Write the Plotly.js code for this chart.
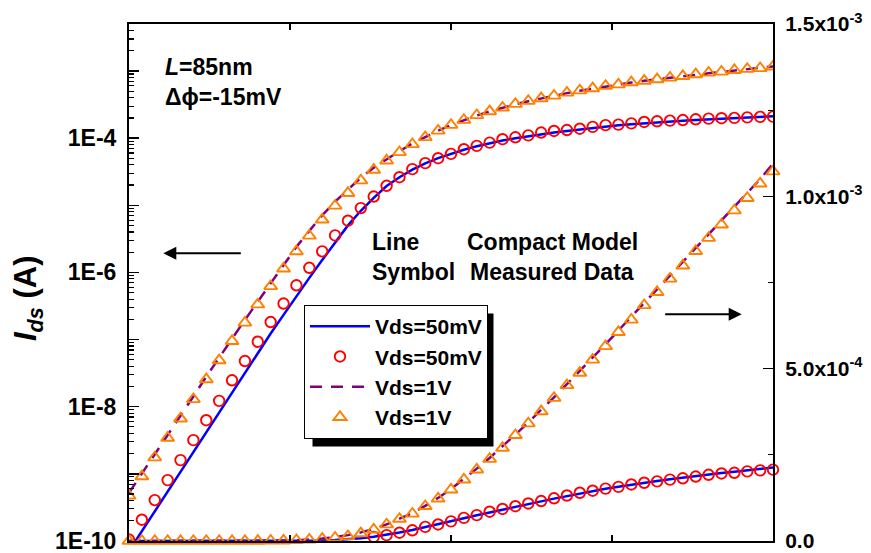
<!DOCTYPE html>
<html><head><meta charset="utf-8">
<script src="https://cdn.plot.ly/plotly-3.0.1.min.js"></script>
<style>html,body{margin:0;padding:0;background:#fff;} #chart{width:871px;height:553px;}</style>
</head><body><div id="chart"></div>
<script>
// Gate voltage grid (V)
const vgs = [0,0.02,0.04,0.06,0.08,0.10,0.12,0.14,0.16,0.18,0.20,0.22,0.24,0.26,0.28,0.30,0.32,0.34,0.36,0.38,0.40,0.42,0.44,0.46,0.48,0.50,0.52,0.54,0.56,0.58,0.60,0.62,0.64,0.66,0.68,0.70,0.72,0.74,0.76,0.78,0.80,0.82,0.84,0.86,0.88,0.90,0.92,0.94,0.96,0.98,1.00];

// ---- Log axis (left) ----
// Compact model, Vds=50mV
const modelLog50mV = [7.1e-11,1.40e-10,2.74e-10,5.44e-10,1.08e-9,2.14e-9,4.25e-9,8.25e-9,1.67e-8,3.23e-8,6.27e-8,1.23e-7,2.33e-7,4.45e-7,8.28e-7,1.53e-6,2.83e-6,5.01e-6,8.28e-6,1.29e-5,1.93e-5,2.62e-5,3.40e-5,4.22e-5,5.03e-5,5.85e-5,6.70e-5,7.55e-5,8.40e-5,9.20e-5,9.95e-5,1.07e-4,1.14e-4,1.21e-4,1.28e-4,1.35e-4,1.42e-4,1.49e-4,1.55e-4,1.61e-4,1.67e-4,1.72e-4,1.77e-4,1.82e-4,1.87e-4,1.91e-4,1.95e-4,1.99e-4,2.03e-4,2.07e-4,2.11e-4];
// Measured, Vds=50mV
const measLog50mV = [1.05e-10,2.07e-10,4.06e-10,8.05e-10,1.60e-9,3.17e-9,6.28e-9,1.22e-8,2.47e-8,4.78e-8,9.27e-8,1.82e-7,3.44e-7,6.43e-7,1.17e-6,2.06e-6,3.56e-6,5.89e-6,9.08e-6,1.35e-5,1.95e-5,2.62e-5,3.45e-5,4.24e-5,5.02e-5,5.82e-5,6.84e-5,7.66e-5,8.57e-5,9.64e-5,1.03e-4,1.10e-4,1.21e-4,1.28e-4,1.32e-4,1.38e-4,1.47e-4,1.56e-4,1.59e-4,1.66e-4,1.74e-4,1.78e-4,1.82e-4,1.86e-4,1.91e-4,1.95e-4,1.98e-4,2.00e-4,2.04e-4,2.07e-4,2.09e-4];
// Compact model, Vds=1V
const modelLog1V = [5.2e-10,1.0e-9,1.92e-9,3.77e-9,7.3e-9,1.42e-8,2.8e-8,5.4e-8,1.04e-7,1.96e-7,3.66e-7,6.9e-7,1.28e-6,2.40e-6,4.15e-6,7.1e-6,1.13e-5,1.72e-5,2.58e-5,3.62e-5,4.88e-5,6.4e-5,8.3e-5,1.04e-4,1.29e-4,1.56e-4,1.85e-4,2.17e-4,2.50e-4,2.84e-4,3.19e-4,3.55e-4,3.91e-4,4.28e-4,4.68e-4,5.08e-4,5.48e-4,5.90e-4,6.30e-4,6.72e-4,7.13e-4,7.54e-4,7.95e-4,8.37e-4,8.80e-4,9.22e-4,9.65e-4,1.01e-3,1.05e-3,1.12e-3,1.17e-3];
// Measured, Vds=1V
const measLog1V = [4.71e-10,9.14e-10,1.75e-9,3.43e-9,6.65e-9,1.29e-8,2.55e-8,4.89e-8,9.46e-8,1.78e-7,3.33e-7,6.21e-7,1.14e-6,2.06e-6,3.52e-6,6.10e-6,9.84e-6,1.52e-5,2.34e-5,3.37e-5,4.63e-5,6.17e-5,8.11e-5,1.03e-4,1.29e-4,1.57e-4,1.86e-4,2.19e-4,2.51e-4,2.84e-4,3.22e-4,3.57e-4,3.92e-4,4.28e-4,4.74e-4,5.13e-4,5.50e-4,5.97e-4,6.30e-4,6.76e-4,7.14e-4,7.52e-4,7.93e-4,8.39e-4,8.91e-4,9.42e-4,9.75e-4,1.03e-3,1.07e-3,1.10e-3,1.16e-3];

// ---- Linear axis (right) ----
const modelLin50mV = [0,0,0,0,0,0,0,0,1e-8,3e-8,6e-8,1.2e-7,2.3e-7,4.5e-7,8.3e-7,1.5e-6,2.8e-6,5.0e-6,8.3e-6,1.25e-5,1.8e-5,2.45e-5,3.2e-5,4.0e-5,4.85e-5,5.7e-5,6.6e-5,7.45e-5,8.3e-5,9.15e-5,9.95e-5,1.075e-4,1.15e-4,1.23e-4,1.305e-4,1.38e-4,1.45e-4,1.515e-4,1.575e-4,1.635e-4,1.69e-4,1.74e-4,1.79e-4,1.84e-4,1.885e-4,1.93e-4,1.97e-4,2.01e-4,2.05e-4,2.09e-4,2.13e-4];
const measLinVgs50mV = [0.38,0.40,0.42,0.44,0.46,0.48,0.50,0.52,0.54,0.56,0.58,0.60,0.62,0.64,0.66,0.68,0.70,0.72,0.74,0.76,0.78,0.80,0.82,0.84,0.86,0.88,0.90,0.92,0.94,0.96,0.98,1.00];
const measLin50mV = [1.2e-5,1.7e-5,2.4e-5,3.1e-5,4.1e-5,4.8e-5,5.7e-5,6.7e-5,7.5e-5,8.5e-5,9.3e-5,1.01e-4,1.09e-4,1.16e-4,1.24e-4,1.32e-4,1.40e-4,1.46e-4,1.52e-4,1.57e-4,1.64e-4,1.69e-4,1.73e-4,1.78e-4,1.82e-4,1.87e-4,1.92e-4,1.96e-4,1.98e-4,2.02e-4,2.05e-4,2.07e-4];
const modelLin1V = [0,0,0,0,0,1e-8,3e-8,5e-8,1e-7,2e-7,3.7e-7,6.9e-7,1.3e-6,2.4e-6,4.2e-6,7.1e-6,1.13e-5,1.7e-5,2.5e-5,3.5e-5,4.8e-5,6.4e-5,8.1e-5,1.02e-4,1.25e-4,1.51e-4,1.80e-4,2.10e-4,2.41e-4,2.74e-4,3.09e-4,3.44e-4,3.80e-4,4.17e-4,4.55e-4,4.93e-4,5.32e-4,5.71e-4,6.11e-4,6.50e-4,6.90e-4,7.30e-4,7.70e-4,8.10e-4,8.50e-4,8.90e-4,9.30e-4,9.70e-4,1.01e-3,1.05e-3,1.095e-3];
const measLin1V = [0,0,0,0,0,1e-8,3e-8,5e-8,9e-8,1.8e-7,3.3e-7,6.2e-7,1.1e-6,2.1e-6,3.5e-6,6.1e-6,9.3e-6,1.39e-5,2.2e-5,3.3e-5,4.8e-5,6.4e-5,7.9e-5,1.01e-4,1.23e-4,1.49e-4,1.78e-4,2.07e-4,2.38e-4,2.70e-4,3.07e-4,3.41e-4,3.76e-4,4.15e-4,4.52e-4,4.88e-4,5.26e-4,5.65e-4,6.06e-4,6.42e-4,6.84e-4,7.22e-4,7.61e-4,7.99e-4,8.41e-4,8.79e-4,9.18e-4,9.59e-4,9.95e-4,1.037e-3,1.072e-3];

// Axis tick labels
const logTickVals = [1e-10,1e-9,1e-8,1e-7,1e-6,1e-5,1e-4,1e-3];
const logTickText = ['1E-10',' ','1E-8',' ','1E-6',' ','1E-4',' '];
const linTickVals = [0,5e-4,1e-3,1.5e-3];
const linTickText = ['0.0','5.0x10<sup>-4</sup>','1.0x10<sup>-3</sup>','1.5x10<sup>-3</sup>'];
const legendNames = ['Vds=50mV','Vds=50mV','Vds=1V','Vds=1V'];

const FONT = 'Liberation Sans, Arial, sans-serif';
const BLUE='#0000FF', RED='#FF0000', PURPLE='#800080', ORANGE='#FF8000';

// pixel -> paper helpers for annotations (plot area 129..773 x 24..541)
const L=129, R=98, T=24, B=12, W=871, H=553;
const PW=W-L-R, PH=H-T-B;
const px=(x)=>(x-L)/PW, py=(y)=>(H-B-y)/PH;

const minorLog=[];
for(let e=-10;e<=-3;e++){ for(let m=2;m<=9;m++){ minorLog.push(m*Math.pow(10,e)); } }

const circ={symbol:'circle-open',size:10.5,color:RED,line:{width:1.9,color:RED}};
const tri={symbol:'triangle-up-open',size:11.5,color:ORANGE,line:{width:1.9,color:ORANGE}};

const traces=[
 {x:vgs,y:modelLog50mV,type:'scatter',mode:'lines',name:legendNames[0],line:{color:BLUE,width:2.5},legendrank:1,yaxis:'y'},
 {x:vgs,y:modelLog1V,type:'scatter',mode:'lines',name:legendNames[2],line:{color:PURPLE,width:2.5,dash:'12px,9px'},legendrank:3,yaxis:'y'},
 {x:vgs,y:measLog50mV,type:'scatter',mode:'markers',name:legendNames[1],marker:circ,legendrank:2,yaxis:'y'},
 {x:vgs,y:measLog1V,type:'scatter',mode:'markers',name:legendNames[3],marker:tri,legendrank:4,yaxis:'y'},
 {x:vgs,y:modelLin50mV,type:'scatter',mode:'lines',showlegend:false,line:{color:BLUE,width:2.5},yaxis:'y2'},
 {x:vgs,y:modelLin1V,type:'scatter',mode:'lines',showlegend:false,line:{color:PURPLE,width:2.5,dash:'12px,9px'},yaxis:'y2'},
 {x:measLinVgs50mV,y:measLin50mV,type:'scatter',mode:'markers',showlegend:false,marker:circ,cliponaxis:false,yaxis:'y2'},
 {x:vgs,y:measLin1V,type:'scatter',mode:'markers',showlegend:false,marker:tri,cliponaxis:false,yaxis:'y2'}
];

const layout={
 width:W,height:H,margin:{l:L,r:R,t:T,b:B},
 paper_bgcolor:'#fff',plot_bgcolor:'#fff',
 font:{family:FONT,color:'#000'},
 showlegend:true,
 xaxis:{range:[0,1],showticklabels:false,ticks:'inside',ticklen:6,tickwidth:1.5,tickcolor:'#000',tick0:0,dtick:0.25,
   showline:true,linewidth:2,linecolor:'#000',mirror:'ticks',showgrid:false,zeroline:false},
 yaxis:{type:'log',range:[-10.001,-2.3],tickmode:'array',tickvals:logTickVals,ticktext:logTickText,ticks:'inside',ticklen:10,tickwidth:1.5,tickcolor:'#000',
   tickfont:{family:FONT,size:23,weight:'bold',color:'#000'},ticklabelstandoff:6,ticklabeloverflow:'allow',
   minor:{tickmode:'array',tickvals:minorLog,ticks:'inside',ticklen:5,tickwidth:1.2,tickcolor:'#000',showgrid:false},
   showline:true,linewidth:2,linecolor:'#000',showgrid:false,zeroline:false},
 yaxis2:{overlaying:'y',side:'right',range:[0,1.5e-3],tickmode:'array',tickvals:linTickVals,ticktext:linTickText,ticks:'inside',ticklen:10,tickwidth:1.5,tickcolor:'#000',
   tickfont:{family:FONT,size:21,weight:'bold',color:'#000'},ticklabelstandoff:6,ticklabeloverflow:'allow',
   minor:{dtick:2.5e-4,ticks:'inside',ticklen:5,tickwidth:1.2,tickcolor:'#000',showgrid:false},
   showline:true,linewidth:2,linecolor:'#000',showgrid:false,zeroline:false},
 legend:{x:px(304),y:py(305),xanchor:'left',yanchor:'top',bgcolor:'#fff',bordercolor:'#000',borderwidth:1,
   font:{family:FONT,size:21,weight:'bold',color:'#000'},itemwidth:60,tracegroupgap:0},
 shapes:[
   {type:'rect',xref:'paper',yref:'paper',x0:px(312),x1:px(497),y0:py(442),y1:py(313),fillcolor:'#000',line:{width:0},layer:'above'}
 ],
 annotations:[
   {xref:'paper',yref:'paper',x:px(163),y:py(66.7),xanchor:'left',yanchor:'middle',showarrow:false,text:'<i>L</i>=85nm',font:{family:FONT,size:23,weight:'bold'}},
   {xref:'paper',yref:'paper',x:px(163),y:py(96.7),xanchor:'left',yanchor:'middle',showarrow:false,text:'\u0394\u03d5=-15mV',font:{family:FONT,size:23,weight:'bold'}},
   {xref:'paper',yref:'paper',x:px(370),y:py(241.7),xanchor:'left',yanchor:'middle',showarrow:false,text:'Line',font:{family:FONT,size:23,weight:'bold'}},
   {xref:'paper',yref:'paper',x:px(465),y:py(241.7),xanchor:'left',yanchor:'middle',showarrow:false,text:'Compact Model',font:{family:FONT,size:23,weight:'bold'}},
   {xref:'paper',yref:'paper',x:px(370),y:py(271.7),xanchor:'left',yanchor:'middle',showarrow:false,text:'Symbol',font:{family:FONT,size:23,weight:'bold'}},
   {xref:'paper',yref:'paper',x:px(468),y:py(271.7),xanchor:'left',yanchor:'middle',showarrow:false,text:'Measured Data',font:{family:FONT,size:23,weight:'bold'}},
   {xref:'paper',yref:'paper',x:px(163.3),y:py(253.3),ax:79,ay:0,axref:'pixel',ayref:'pixel',text:'',showarrow:true,arrowhead:2,arrowsize:1.3,arrowwidth:2,arrowcolor:'#000'},
   {xref:'paper',yref:'paper',x:px(741.7),y:py(314.3),ax:-78,ay:0,axref:'pixel',ayref:'pixel',text:'',showarrow:true,arrowhead:2,arrowsize:1.3,arrowwidth:2,arrowcolor:'#000'},
   {xref:'paper',yref:'paper',x:px(28),y:py(298),xanchor:'center',yanchor:'middle',showarrow:false,textangle:-90,
     text:'<i>I</i><sub><i>ds</i></sub> (A)',font:{family:FONT,size:31,weight:'bold'}}
 ]
};
Plotly.newPlot('chart',traces,layout,{displayModeBar:false,staticPlot:true}).then(function(gd){
  // place the drop shadow just behind the legend box, offset right/down
  var bg=gd.querySelector('.legend .bg');
  if(!bg) return;
  var r=bg.getBoundingClientRect(), c=gd.getBoundingClientRect();
  var x0=r.left-c.left, y0=r.top-c.top, x1=x0+r.width, y1=y0+r.height;
  return Plotly.relayout(gd,{'shapes[0].x0':px(x0+8),'shapes[0].x1':px(x1+6),'shapes[0].y0':py(y1+8),'shapes[0].y1':py(y0+8)});
});
</script></body></html>
